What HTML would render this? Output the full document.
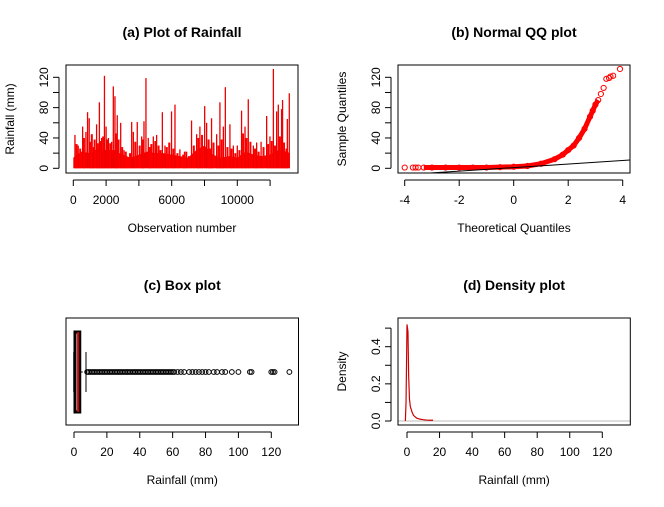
<!DOCTYPE html>
<html><head><meta charset="utf-8"><style>
body{margin:0;background:#fff}
svg{display:block;font-family:"Liberation Sans",Arial,sans-serif}
</style></head><body>
<svg id="c" width="664" height="507" viewBox="0 0 664 507"></svg>
<script>
// Panel (a) rainfall time series
const peakObs=[100,300,570,770,870,970,1220,1420,1590,1730,1900,2000,2140,2340,2440,2540,2680,2890,3090,3560,3660,3900,4170,4310,4430,4570,4880,5080,5430,5590,5990,6200,6500,6910,7210,7520,7720,8010,8130,8430,8740,8940,9150,9270,9550,9760,10000,10260,10470,10670,10980,11180,11450,11790,11990,12200,12400,12500,12700,12760,12900,13050,13170];
const peakVal=[44,30,55,48,74,66,28,58,87,40,122,55,40,35,108,95,70,60,24,61,48,61,42,62,119,40,42,44,74,30,75,84,25,22,63,45,55,82,60,66,45,87,55,107,58,30,30,76,55,91,30,34,35,69,42,131,75,84,78,90,20,65,99];
const midObs=[200,420,650,1050,1130,1300,1500,1660,1820,2080,2250,2600,2760,2980,3200,3330,3460,3780,4050,4250,4650,4760,5000,5200,5320,5700,5850,6100,6350,6700,6800,7050,7350,7620,7850,8250,8350,8550,8850,9050,9400,9650,9880,10130,10350,10560,10800,11080,11300,11600,11880,12100,12300,12600,12850,13000];
const midVal=[32,26,40,35,45,38,33,36,42,38,33,46,38,28,22,14,20,35,30,38,28,32,36,30,24,28,34,26,20,18,22,16,30,40,44,38,26,34,30,38,28,26,20,24,46,40,35,26,22,28,32,36,30,42,34,26];
const baseObs=[0,500,1000,1500,2000,2500,3000,3500,4000,4500,5000,5500,6000,6500,7000,7500,8000,8500,9000,9500,10000,10500,11000,11500,12000,12500,13000,13200];
const baseVal=[14,22,20,26,24,24,18,14,18,22,20,20,18,16,14,24,30,18,14,16,14,22,18,16,18,24,22,20];
// Panel (b) QQ plot
const qqTheo=[-4,-3.7,-3.6,-3.5,-3.3,-3,-2.5,-2,-1.5,-1,-0.5,0,0.5,1,1.5,1.8,2,2.2,2.4,2.6,2.8,2.9,3.0,3.1,3.2,3.3,3.4,3.5,3.55,3.65,3.9];
const qqSample=[1,1,1,1,1,1,1,1,1,1,1.5,2,3,6,12,18,24,30,40,52,68,76,84,90,98,106,118,119,121,122,131];
const qqLine=[[-3.4,-7],[4.3,11]];
// Panel (c) boxplot
const boxStats=[0,0.6,2.5,3.5,7.3];
const outliers=[8,9,10,11,12,13,14,15,16,17,18,19,20,21,22,23,24,25,26,27,28,29,30,31,32,33,34,35,36,37,38,39,40,41,42,43,44,45,46,47,48,49,50,51,52,53,54,55,56,57,58,59,60,61,63,65,67,70,72,74,76,78,80,82,85,87,90,92,96,100,107,108,120,121,122,131];
// Panel (d) density
const densX=[-1,-0.6,-0.3,0,0.3,0.6,1,1.5,2,3,4,6,8,10,12,14,16];
const densY=[0,0.1,0.3,0.52,0.5,0.48,0.25,0.12,0.08,0.05,0.03,0.015,0.01,0.007,0.005,0.004,0.004];
const ticksA=[0,2000,6000,10000], ticksAminor=[0,2000,4000,6000,8000,10000,12000];
const ticksY=[0,20,40,60,80,100,120], labY=[0,40,80,120];
const ticksQ=[-4,-2,0,2,4];
const ticksR=[0,20,40,60,80,100,120];
const ticksD=[0,0.1,0.2,0.3,0.4,0.5], labD=[0,0.2,0.4];

const svg=document.getElementById('c');const NS='http://www.w3.org/2000/svg';
function el(t,a,p){const e=document.createElementNS(NS,t);for(const k in a)e.setAttribute(k,a[k]);(p||svg).appendChild(e);return e;}
function txt(s,x,y,a,p){const e=el('text',Object.assign({x:x,y:y,'font-size':12,'text-anchor':'middle',fill:'#000'},a),p);e.textContent=s;return e;}
function lin(d0,d1,r0,r1){return v=>r0+(v-d0)/(d1-d0)*(r1-r0);}
function panel(name,x0,y0,x1,y1,title,xl,yl){
 const g=el('g',{});
 const cx=(x0+x1)/2;
 const t=txt(title,cx,y0-28,{'font-size':14,'font-weight':'bold'},g);
 const a=txt(xl,cx,y1+59,{},g);
 if(yl){const b=txt(yl,0,0,{transform:`translate(${x0-52},${(y0+y1)/2}) rotate(-90)`},g);}
 return g;}
function frame(g,x0,y0,x1,y1){const r=el('rect',{x:x0,y:y0,width:x1-x0,height:y1-y0,fill:'none',stroke:'#000','stroke-width':1},g);}
function xaxis(g,sx,ticks,labs,y1,fmt){const ax=el('g',{},g);
 el('line',{x1:sx(ticks[0]),x2:sx(ticks[ticks.length-1]),y1:y1+7,y2:y1+7,stroke:'#000'},ax);
 ticks.forEach(t=>el('line',{x1:sx(t),x2:sx(t),y1:y1+7,y2:y1+13,stroke:'#000'},ax));
 labs.forEach(t=>{const e=txt(fmt?fmt(t):String(t),sx(t),y1+31,{},ax);});}
function yaxis(g,sy,ticks,labs,x0,fmt){const ax=el('g',{},g);
 el('line',{x1:x0-7,x2:x0-7,y1:sy(ticks[0]),y2:sy(ticks[ticks.length-1]),stroke:'#000'},ax);
 ticks.forEach(t=>el('line',{x1:x0-7,x2:x0-13,y1:sy(t),y2:sy(t),stroke:'#000'},ax));
 labs.forEach(t=>{const e=txt(fmt?fmt(t):String(t),0,0,{transform:`translate(${x0-18},${sy(t)}) rotate(-90)`},ax);});}

// (a)
{const x0=66,y0=65,x1=298,y1=173;const g=panel('panel-a-rainfall-series',x0,y0,x1,y1,'(a) Plot of Rainfall','Observation number','Rainfall (mm)');
 const sx=lin(0,10000,73.3,237.3),sy=lin(0,120,168.3,77.3);
 let pts=baseObs.map((o,i)=>`${sx(o)},${sy(baseVal[i])}`);
 const area=el('polygon',{points:`${sx(0)},${sy(0)} ${pts.join(' ')} ${sx(baseObs[baseObs.length-1])},${sy(0)}`,fill:'#ff0000'},g);
 
 midObs.forEach((o,i)=>{const l=el('line',{x1:sx(o),x2:sx(o),y1:sy(0),y2:sy(midVal[i]),stroke:'#ff0000','stroke-width':2},g);
  });
 peakObs.forEach((o,i)=>{const l=el('line',{x1:sx(o),x2:sx(o),y1:sy(0),y2:sy(peakVal[i]),stroke:'#ee0000','stroke-width':1.3},g);
  });
 frame(g,x0,y0,x1,y1);xaxis(g,sx,ticksAminor,ticksA,y1);yaxis(g,sy,ticksY,labY,x0);}
// (b)
{const x0=398,y0=65,x1=630,y1=173;const g=panel('panel-b-qq-plot',x0,y0,x1,y1,'(b) Normal QQ plot','Theoretical Quantiles','Sample Quantiles');
 const sx=lin(-4,4,404.7,622.7),sy=lin(0,120,168.3,77.3);
 const clip=el('clipPath',{id:'cb'},g);el('rect',{x:x0,y:y0,width:x1-x0,height:y1-y0},clip);
 const dense=el('polyline',{points:qqTheo.slice(4,24).map((t,i)=>`${sx(t)},${sy(qqSample[i+4])}`).join(' '),fill:'none',stroke:'#ff0000','stroke-width':5,'clip-path':'url(#cb)'},g);
 
 qqTheo.forEach((t,i)=>{const c=el('circle',{cx:sx(t),cy:sy(qqSample[i]),r:2.6,fill:'none',stroke:'#ff0000','stroke-width':1},g);});
 const ql=el('line',{x1:sx(qqLine[0][0]),y1:sy(qqLine[0][1]),x2:sx(qqLine[1][0]),y2:sy(qqLine[1][1]),stroke:'#000','clip-path':'url(#cb)'},g);
 frame(g,x0,y0,x1,y1);xaxis(g,sx,ticksQ,ticksQ,y1);yaxis(g,sy,ticksY,labY,x0);}
// (c)
{const x0=66,y0=318,x1=298.5,y1=425;const g=panel('panel-c-boxplot',x0,y0,x1,y1,'(c) Box plot','Rainfall (mm)',null);
 const sx=lin(0,120,74,271.3);const yc=372,bt=332,bb=412,ct=352,cb=392;
 const b=el('rect',{x:sx(boxStats[1]),y:bt,width:sx(boxStats[3])-sx(boxStats[1]),height:bb-bt,fill:'none',stroke:'#000','stroke-width':3},g);
 const m=el('line',{x1:sx(boxStats[2]),x2:sx(boxStats[2]),y1:bt,y2:bb,stroke:'#cc0000','stroke-width':2},g);
 el('line',{x1:sx(boxStats[0]),x2:sx(boxStats[0]),y1:352,y2:392,stroke:'#000','stroke-width':1.5},g);
 const w=el('line',{x1:sx(boxStats[3]),x2:sx(boxStats[4]),y1:yc,y2:yc,stroke:'#000','stroke-dasharray':'3,2'},g);
 const wc=el('line',{x1:sx(boxStats[4]),x2:sx(boxStats[4]),y1:ct,y2:cb,stroke:'#000'},g);
 outliers.forEach(v=>{const c=el('circle',{cx:sx(v),cy:yc,r:2.4,fill:'none',stroke:'#000','stroke-width':1},g);});
 frame(g,x0,y0,x1,y1);xaxis(g,sx,ticksR,ticksR,y1);}
// (d)
{const x0=398,y0=318,x1=630.3,y1=425;const g=panel('panel-d-density',x0,y0,x1,y1,'(d) Density plot','Rainfall (mm)','Density');
 const sx=lin(0,120,407,602.3),sy=lin(0,0.4,421,346.7);
 const z=el('line',{x1:x0,x2:x1,y1:sy(0),y2:sy(0),stroke:'#bbbbbb'},g);
 const p=el('polyline',{points:densX.map((x,i)=>`${sx(x)},${sy(densY[i])}`).join(' '),fill:'none',stroke:'#cc0000','stroke-width':1.2},g);
 frame(g,x0,y0,x1,y1);xaxis(g,sx,ticksR,ticksR,y1);yaxis(g,sy,ticksD,labD,x0,v=>v.toFixed(1));}
</script>
</body></html>
